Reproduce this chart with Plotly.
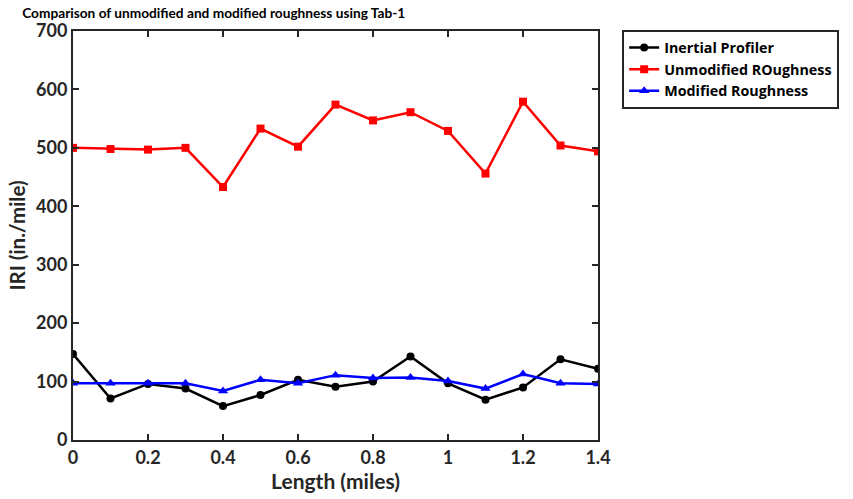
import plotly.graph_objects as go

length = [0, 0.1, 0.2, 0.3, 0.4, 0.5, 0.6, 0.7, 0.8, 0.9, 1.0, 1.1, 1.2, 1.3, 1.4]
inertial = [147, 71, 96, 88, 58, 77, 103, 91, 100, 143, 97, 69, 90, 138, 122]
unmodified = [500, 498, 497, 500, 433, 533, 502, 574, 547, 561, 529, 456, 579, 504, 494]
modified = [97, 97, 97, 97, 84, 103, 97, 111, 106, 107, 101, 88, 113, 97, 96]

xticks = [0, 0.2, 0.4, 0.6, 0.8, 1, 1.2, 1.4]
xticklabels = ["0", "0.2", "0.4", "0.6", "0.8", "1", "1.2", "1.4"]
yticks = [0, 100, 200, 300, 400, 500, 600, 700]

FONT = "Lato"
AX = "#262626"

fig = go.Figure()
fig.add_trace(go.Scatter(x=length, y=inertial, name="Inertial Profiler", mode="lines+markers",
                         line=dict(color="black", width=2.5),
                         marker=dict(symbol="circle", size=8, color="black")))
fig.add_trace(go.Scatter(x=length, y=unmodified, name="Unmodified ROughness", mode="lines+markers",
                         line=dict(color="#ff0000", width=2.5),
                         marker=dict(symbol="square", size=8, color="#ff0000")))
fig.add_trace(go.Scatter(x=length, y=modified, name="Modified Roughness", mode="lines+markers",
                         line=dict(color="#0000ff", width=2.5),
                         marker=dict(symbol="triangle-up", size=9, color="#0000ff")))

axis_common = dict(showline=True, linecolor=AX, linewidth=2, mirror="ticks", ticks="inside",
                   tickcolor=AX, tickwidth=2, ticklen=6, showgrid=False, zeroline=False,
                   automargin=False,
                   tickfont=dict(family=FONT, size=18, color=AX, weight="bold"))

fig.update_layout(
    width=853, height=499,
    paper_bgcolor="white", plot_bgcolor="white",
    margin=dict(l=73, r=255, t=31, b=59),
    title=dict(text="<b>Comparison of unmodified and modified roughness using Tab-1</b>",
               x=0.026, xanchor="left", y=0.973, yanchor="middle", pad=dict(t=0, b=0, l=0, r=0),
               font=dict(family=FONT, size=13.7, color="black")),
    xaxis=dict(range=[0, 1.4], tickvals=xticks, ticktext=xticklabels,
               title=dict(text="<b>Length (miles)</b>", standoff=3,
                          font=dict(family=FONT, size=21, color=AX)),
               **axis_common),
    yaxis=dict(range=[0, 700], tickvals=yticks,
               title=dict(text="<b>IRI (in./mile)</b>", standoff=5,
                          font=dict(family=FONT, size=20.5, color=AX)),
               **axis_common),
    legend=dict(x=1.046, y=1.003, xanchor="left", yanchor="top",
                bordercolor=AX, borderwidth=2, bgcolor="white",
                font=dict(family="Open Sans", size=14.3, color="black", weight="bold"),
                tracegroupgap=0, itemwidth=30),
    showlegend=True,
)

fig.write_html("out.html", config={"displayModeBar": False},
               post_script="document.body.style.margin='0';")
